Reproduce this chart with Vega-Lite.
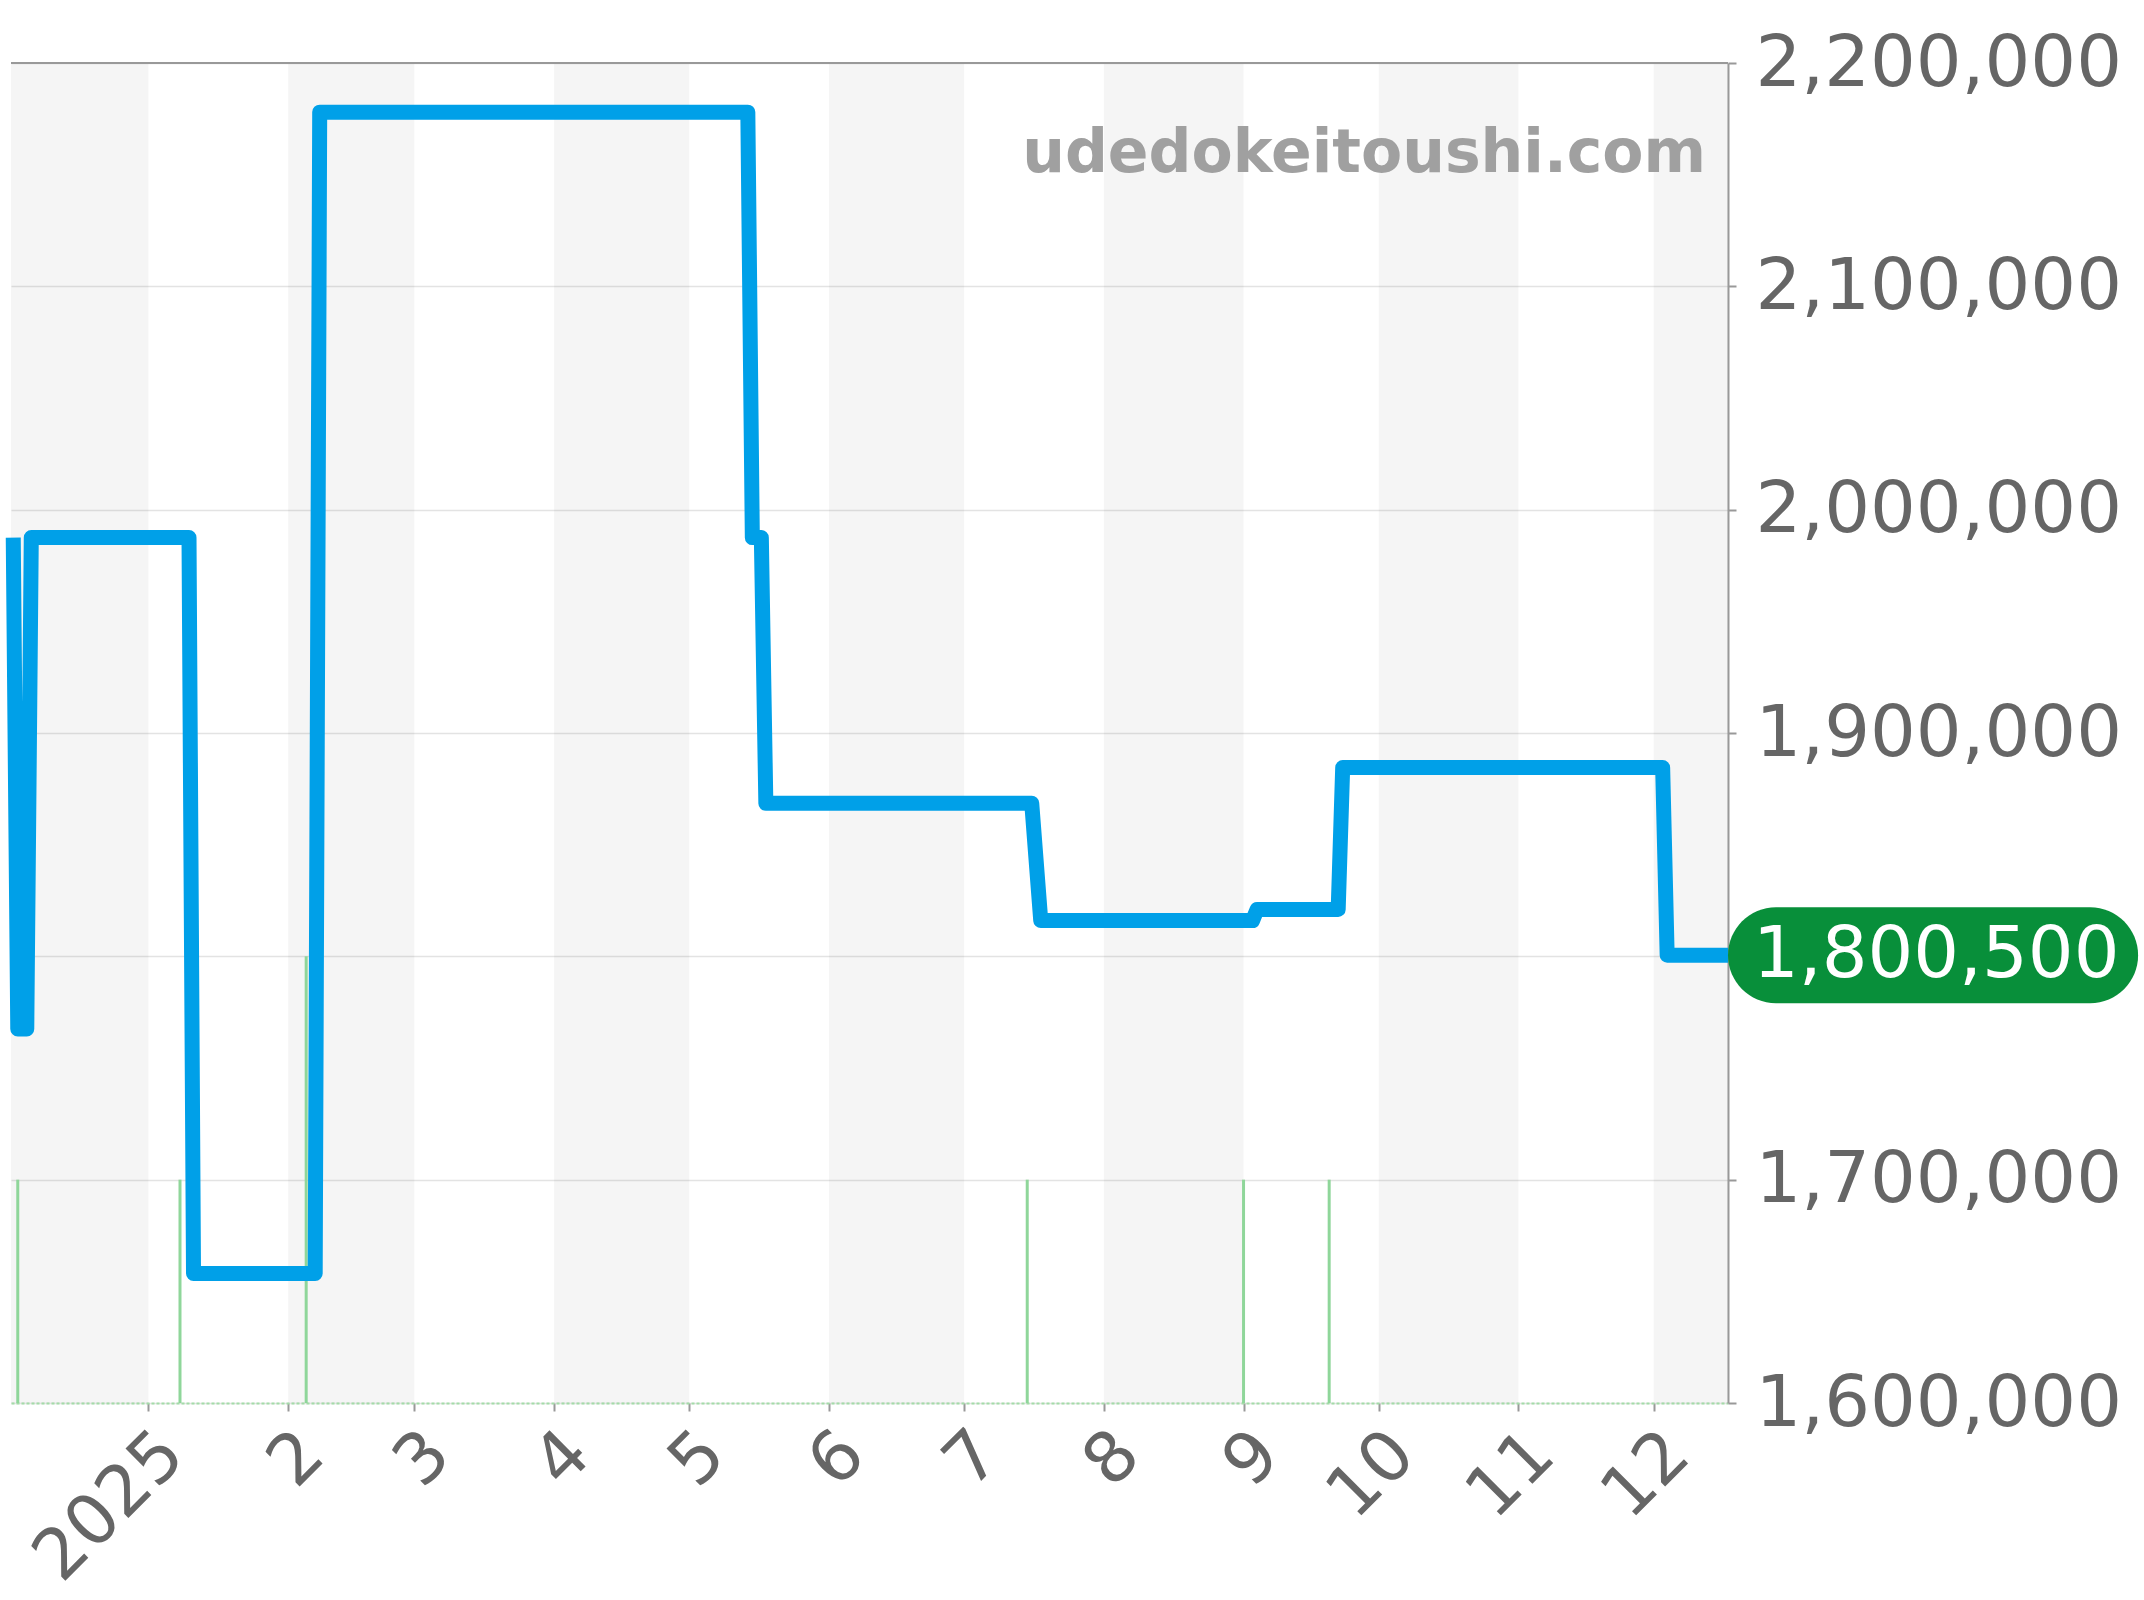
{
  "$schema": "https://vega.github.io/schema/vega-lite/v6.json",
  "width": 1717,
  "height": 1340,
  "autosize": "none",
  "padding": {"left": 11, "top": 63, "right": 416, "bottom": 197},
  "background": "white",
  "config": {
    "view": {"stroke": null},
    "font": "DejaVu Sans"
  },
  "datasets": {
    "prices": [
      {"date": "2024-12-02T00:00", "price": 1987500},
      {"date": "2024-12-03T00:00", "price": 1767500},
      {"date": "2024-12-05T00:00", "price": 1767500},
      {"date": "2024-12-06T00:00", "price": 1987500},
      {"date": "2025-01-10T00:00", "price": 1987500},
      {"date": "2025-01-11T00:00", "price": 1658000},
      {"date": "2025-02-07T00:00", "price": 1658000},
      {"date": "2025-02-08T00:00", "price": 2178000},
      {"date": "2025-05-14T00:00", "price": 2178000},
      {"date": "2025-05-15T00:00", "price": 1987500},
      {"date": "2025-05-17T00:00", "price": 1987500},
      {"date": "2025-05-18T00:00", "price": 1868500},
      {"date": "2025-07-16T00:00", "price": 1868500},
      {"date": "2025-07-18T00:00", "price": 1816000},
      {"date": "2025-09-03T00:00", "price": 1816000},
      {"date": "2025-09-04T00:00", "price": 1821000},
      {"date": "2025-09-22T00:00", "price": 1821000},
      {"date": "2025-09-23T00:00", "price": 1884500},
      {"date": "2025-12-03T00:00", "price": 1884500},
      {"date": "2025-12-04T00:00", "price": 1800500},
      {"date": "2025-12-17T12:00", "price": 1800500}
    ],
    "bands": [
      {"start": "2024-12-01T00:00", "end": "2025-01-01T00:00"},
      {"start": "2025-02-01T00:00", "end": "2025-03-01T00:00"},
      {"start": "2025-04-01T00:00", "end": "2025-05-01T00:00"},
      {"start": "2025-06-01T00:00", "end": "2025-07-01T00:00"},
      {"start": "2025-08-01T00:00", "end": "2025-09-01T00:00"},
      {"start": "2025-10-01T00:00", "end": "2025-11-01T00:00"},
      {"start": "2025-12-01T00:00", "end": "2026-01-01T00:00"}
    ],
    "events": [
      {"date": "2024-12-03T00:00", "level": 1700000},
      {"date": "2025-01-08T00:00", "level": 1700000},
      {"date": "2025-02-05T00:00", "level": 1800000},
      {"date": "2025-07-15T00:00", "level": 1700000},
      {"date": "2025-09-01T00:00", "level": 1700000},
      {"date": "2025-09-20T00:00", "level": 1700000}
    ],
    "latest": [
      {"date": "2025-12-17T12:00", "until": "2026-03-18T12:00", "price": 1800500, "top": 1822000, "bottom": 1779000}
    ],
    "site": [
      {"date": "2025-12-17T12:00", "level": 2151000, "label": "udedokeitoushi.com"}
    ]
  },
  "layer": [
    {
      "data": {"name": "bands"},
      "mark": {"type": "rect", "color": "#000000", "opacity": 0.04, "clip": true},
      "encoding": {
        "x": {
          "field": "start",
          "type": "temporal",
          "scale": {"domain": ["2024-12-01T12:00", "2025-12-17T12:00"]},
          "axis": {
            "orient": "bottom",
            "tickCount": {"interval": "month", "step": 1},
            "labelExpr": "month(datum.value) == 0 ? timeFormat(datum.value, '%Y') : timeFormat(datum.value, '%-m')",
            "labelAngle": -45,
            "labelFontSize": 70,
            "labelColor": "#666666",
            "labelPadding": 8,
            "labelOverlap": false,
            "labelFlush": false,
            "domainColor": "#a3dca8",
            "domainDash": [3, 2],
            "domainWidth": 2,
            "tickColor": "#999999",
            "tickSize": 8,
            "tickWidth": 2,
            "grid": false,
            "title": null
          }
        },
        "x2": {"field": "end"},
        "y": {"datum": 2200000, "type": "quantitative",
          "scale": {"domain": [1600000, 2200000]},
          "axis": {
            "orient": "right",
            "values": [1600000, 1700000, 1800000, 1900000, 2000000, 2100000, 2200000],
            "format": ",.0f",
            "labelFontSize": 72,
            "labelLimit": 1000,
            "labelColor": "#666666",
            "labelPadding": 19,
            "domainColor": "#999999",
            "domainWidth": 2,
            "tickColor": "#999999",
            "tickSize": 8,
            "tickWidth": 2,
            "grid": true,
            "gridColor": "#e3e3e3",
            "gridWidth": 1.5,
            "title": null
          }
        },
        "y2": {"datum": 1600000}
      }
    },
    {
      "data": {"name": "events"},
      "mark": {"type": "rule", "color": "#8fd69a", "strokeWidth": 3},
      "encoding": {
        "x": {"field": "date", "type": "temporal"},
        "y": {"field": "level", "type": "quantitative"},
        "y2": {"datum": 1600000}
      }
    },
    {
      "data": {"values": [{}]},
      "mark": {"type": "rule", "color": "#999999", "strokeWidth": 2},
      "encoding": {
        "y": {"datum": 2200000, "type": "quantitative"}
      }
    },
    {
      "data": {"name": "prices"},
      "mark": {"type": "line", "color": "#00a0e8", "strokeWidth": 15, "strokeJoin": "round", "strokeCap": "butt"},
      "encoding": {
        "x": {"field": "date", "type": "temporal"},
        "y": {"field": "price", "type": "quantitative"}
      }
    },
    {
      "data": {"name": "site"},
      "mark": {"type": "text", "font": "DejaVu Sans", "fontSize": 60, "fontWeight": "bold", "color": "#a0a0a0", "align": "right", "baseline": "alphabetic", "dx": -22},
      "encoding": {
        "x": {"field": "date", "type": "temporal"},
        "y": {"field": "level", "type": "quantitative"},
        "text": {"field": "label", "type": "nominal"}
      }
    },
    {
      "data": {"name": "latest"},
      "mark": {"type": "rect", "color": "#088f3a", "cornerRadius": 48, "clip": false},
      "encoding": {
        "x": {"field": "date", "type": "temporal"},
        "x2": {"field": "until"},
        "y": {"field": "top", "type": "quantitative"},
        "y2": {"field": "bottom"}
      }
    },
    {
      "data": {"name": "latest"},
      "mark": {"type": "text", "font": "DejaVu Sans", "fontSize": 72, "color": "#ffffff", "align": "left", "baseline": "middle", "dx": 25},
      "encoding": {
        "x": {"field": "date", "type": "temporal"},
        "y": {"field": "price", "type": "quantitative"},
        "text": {"field": "price", "type": "quantitative", "format": ",.0f"}
      }
    }
  ]
}
